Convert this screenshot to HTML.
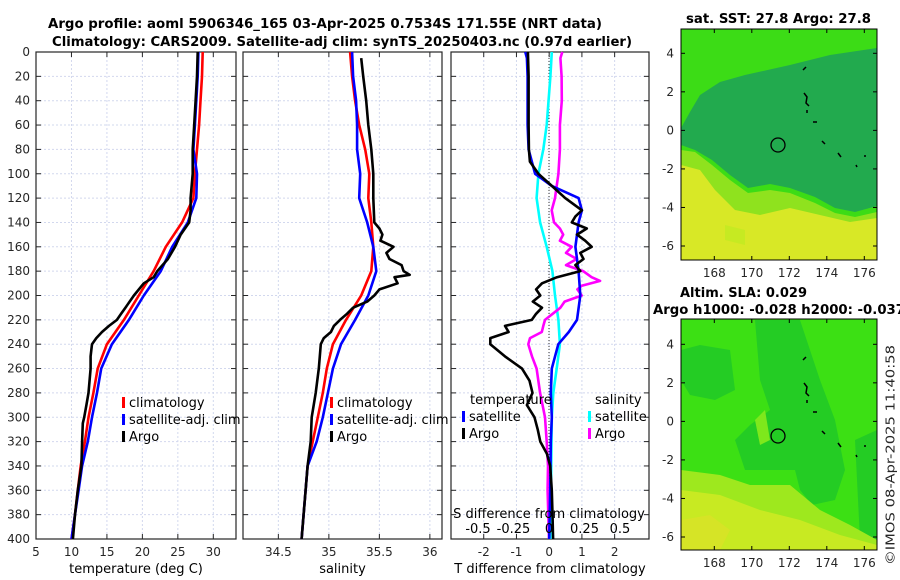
<!DOCTYPE html>
<html><head><meta charset="utf-8"><style>
body{margin:0;background:#fff;}
svg{display:block;font-family:"DejaVu Sans","Liberation Sans",sans-serif;}
.tk{font-size:12px;fill:#262626;}
.bt{font-size:13px;font-weight:bold;fill:#000;}
.lg{font-size:13px;fill:#000;}
</style></head><body>
<svg id="chart" width="900" height="580" viewBox="0 0 900 580" xmlns="http://www.w3.org/2000/svg">
<text class="bt" x="48" y="28" textLength="554" lengthAdjust="spacingAndGlyphs">Argo profile: aoml 5906346_165 03-Apr-2025 0.7534S 171.55E (NRT data)</text>
<text class="bt" x="52" y="46" textLength="580" lengthAdjust="spacingAndGlyphs">Climatology: CARS2009. Satellite-adj clim: synTS_20250403.nc (0.97d earlier)</text>
<g id="maps">
<text class="bt" x="686" y="23" textLength="185" lengthAdjust="spacingAndGlyphs">sat. SST: 27.8 Argo: 27.8</text>
<g>
<rect x="681" y="29" width="196" height="231" fill="#3cdc16"/>
<polygon fill="#22aa4e" points="681,128 690,112 700,95 720,82 745,75 790,65 830,55 877,48 877,206 855,212 835,208 815,197 790,188 770,184 748,188 730,175 712,160 695,150 681,145"/>
<polygon fill="#8fe21e" points="681,150 695,152 712,165 730,180 748,193 770,190 790,193 815,203 835,213 855,217 877,212 877,230 681,230"/>
<polygon fill="#d8e826" points="681,165 700,170 715,190 735,210 760,215 790,208 820,215 850,222 877,218 877,260 681,260"/>
<polygon fill="#c6ea22" points="725,225 745,230 745,245 725,240"/>
<g fill="none" stroke="#000" stroke-width="1.5"><path d="M803,70 l3,-3 M804,93 l3,4 l-1,6 l3,3 M807,110 l0,3 M813,122 l4,0 M822,141 l3,3 M838,153 l3,4 M856,165 l1,2 M864,156 l2,0"/></g>
<circle cx="778" cy="145" r="7" fill="none" stroke="#000" stroke-width="1.3"/>
<rect x="681" y="29" width="196" height="231" fill="none" stroke="#000"/>
</g>
<text class="bt" x="680" y="297" textLength="127" lengthAdjust="spacingAndGlyphs">Altim. SLA: 0.029</text>
<text class="bt" x="653" y="314" textLength="252" lengthAdjust="spacingAndGlyphs">Argo h1000: -0.028 h2000: -0.037</text>
<g>
<rect x="681" y="319" width="196" height="231" fill="#3ce014"/>
<polygon fill="#24cc24" points="700,345 730,350 735,390 715,400 690,395 681,380 681,350"/>
<polygon fill="#24cc24" points="755,320 800,320 820,380 835,420 845,470 835,500 812,505 800,490 795,470 770,470 745,470 735,440 750,425 770,410 760,380"/>
<polygon fill="#24cc24" points="855,440 877,430 877,550 860,540 858,500"/>
<polygon fill="#7ee81c" points="755,420 765,410 770,440 760,445"/>
<polygon fill="#9ee81e" points="681,470 720,475 750,485 790,485 820,510 850,525 877,540 877,550 681,550"/>
<polygon fill="#c8ea22" points="681,490 720,495 760,510 800,520 840,535 877,545 877,550 681,550"/>
<polygon fill="#d6e426" points="681,520 710,515 730,530 720,550 681,550"/>
<g fill="none" stroke="#000" stroke-width="1.5"><path d="M803,360 l3,-3 M804,383 l3,4 l-1,6 l3,3 M807,400 l0,3 M813,412 l4,0 M822,431 l3,3 M838,443 l3,4 M856,455 l1,2 M864,446 l2,0"/></g>
<circle cx="778" cy="436" r="7" fill="none" stroke="#000" stroke-width="1.3"/>
<rect x="681" y="319" width="196" height="231" fill="none" stroke="#000"/>
</g>
<text class="tk" x="891" y="455" text-anchor="middle" textLength="220" lengthAdjust="spacingAndGlyphs" transform="rotate(-90 891 455)" dominant-baseline="middle">©IMOS 08-Apr-2025 11:40:58</text>
</g>
</svg>
<script>
// ---------- data ----------
const depthClim = [0,20,40,60,80,100,120,140,160,180,200,220,240,260,280,300,320,340,360,380,400];
const tempClim = [28.5,28.4,28.2,28.0,27.7,27.4,27.2,25.6,23.3,21.6,19.5,17.4,15.0,13.7,13.1,12.4,11.9,11.3,10.9,10.5,10.0];
const tempSat = [27.9,27.8,27.6,27.4,27.2,27.7,27.6,26.4,24.2,22.6,20.2,18.1,15.7,14.2,13.6,12.9,12.3,11.5,11.0,10.5,10.0];
const depthArgoT = [0,20,40,60,80,100,120,130,140,150,160,170,180,185,190,200,210,215,220,225,230,235,240,250,260,280,290,300,305,320,340,360,380,400];
const tempArgo = [27.8,27.7,27.5,27.3,27.1,27.1,26.8,26.8,26.6,25.4,24.6,23.6,22.1,21.6,20.2,18.8,17.6,17.0,16.4,15.3,14.3,13.5,12.9,12.7,12.7,12.4,12.1,11.8,11.6,11.5,11.4,10.9,10.5,10.2];
const salClim = [35.21,35.23,35.26,35.30,35.36,35.40,35.39,35.42,35.44,35.42,35.32,35.17,35.04,34.98,34.94,34.89,34.84,34.79,34.77,34.75,34.73];
const salSat = [35.23,35.24,35.27,35.28,35.28,35.31,35.30,35.38,35.44,35.47,35.39,35.26,35.12,35.04,34.99,34.94,34.88,34.79,34.77,34.75,34.73];
const depthArgoS = [5,20,40,60,80,100,120,140,145,150,155,160,165,170,175,180,183,185,190,195,200,205,210,215,220,225,230,235,240,260,280,300,320,340,360,380,400];
const salArgo = [35.32,35.34,35.37,35.39,35.42,35.44,35.44,35.45,35.50,35.53,35.51,35.64,35.57,35.60,35.72,35.74,35.80,35.65,35.68,35.50,35.45,35.38,35.24,35.18,35.11,35.05,35.02,34.95,34.92,34.90,34.87,34.83,34.82,34.79,34.77,34.75,34.73];
const depthDT = [0,5,20,60,80,100,110,120,130,140,160,180,200,220,230,240,260,280,300,320,360,400];
const dTsat = [-0.73,-0.68,-0.66,-0.66,-0.63,-0.43,0.08,0.9,1.0,0.9,0.8,0.9,0.95,0.85,0.6,0.28,0.08,0.05,0.08,0.05,0.03,0.0];
const depthDTArgo = [0,20,40,60,80,90,100,110,120,130,135,140,145,150,155,160,165,170,175,180,185,190,195,200,205,210,215,220,225,230,235,240,250,260,270,280,290,300,310,320,330,340,360,380,400];
const dTargo = [-0.65,-0.63,-0.63,-0.63,-0.62,-0.59,-0.33,0.08,0.49,1.0,0.8,0.69,1.15,0.85,1.1,1.3,0.95,1.05,0.8,0.95,0.24,-0.22,-0.4,-0.27,-0.5,-0.22,-0.4,-0.53,-1.35,-1.24,-1.8,-1.8,-1.35,-0.83,-0.6,-0.51,-0.68,-0.45,-0.35,-0.27,-0.07,0.03,0.08,0.1,0.12];
const depthDS = [0,20,60,80,100,120,140,160,180,200,220,240,260,280,300,400];
const dSsat = [0.02,0.01,-0.016,-0.04,-0.075,-0.087,-0.063,-0.016,0.024,0.042,0.066,0.077,0.054,0.03,0.02,0.01];
const depthDSArgo = [0,5,20,40,60,80,100,120,130,140,145,150,155,160,165,170,175,180,185,188,192,195,200,205,210,220,225,230,235,240,250,260,280,300,320,340,360,400];
const dSargo = [0.094,0.08,0.089,0.09,0.077,0.077,0.066,0.042,0.019,0.035,0.077,0.1,0.077,0.16,0.12,0.195,0.12,0.24,0.3,0.36,0.23,0.2,0.23,0.11,0.08,-0.028,-0.04,-0.051,-0.134,-0.146,-0.12,-0.087,-0.063,-0.028,-0.016,-0.007,-0.01,0.0];
const depthTicks = [0,20,40,60,80,100,120,140,160,180,200,220,240,260,280,300,320,340,360,380,400];
const tempTicks = [5,10,15,20,25,30];
const salTicks = [34.5,35,35.5,36];
const dTTicks = [-2,-1,0,1,2];
const dSTicks = [-0.5,-0.25,0,0.25,0.5];
const dSTickLabels = ["-0.5","-0.25","0","0.25","0.5"];

// ---------- axes ----------
const Y0 = 52, Y1 = 539;
const yScale = d => Y0 + (d/400)*(Y1-Y0);
const panels = [
  {x0:36, x1:236, min:5, max:33.2, ticks:tempTicks, label:"temperature (deg C)", name:"temperature"},
  {x0:243, x1:442, min:34.15, max:36.12, ticks:salTicks, label:"salinity", name:"salinity"},
  {x0:451, x1:649, min:-3.0, max:3.05, ticks:dTTicks, label:"T difference from climatology", name:"difference"}
];
const xS = (p,v) => p.x0 + (v-p.min)/(p.max-p.min)*(p.x1-p.x0);
const sScaleDS = v => 549 + v*142;
const NS = "http://www.w3.org/2000/svg";
const svg = document.getElementById('chart');
function mk(tag, attrs, parent){
  const e = document.createElementNS(NS, tag);
  for (const k in attrs) e.setAttribute(k, attrs[k]);
  (parent||svg).appendChild(e);
  return e;
}
panels.forEach((p,i)=>{
  const g = mk('g',{});
  
  
  depthTicks.forEach(d=>{
    const y = yScale(d);
    const gl = mk('line',{x1:p.x0,x2:p.x1,y1:y,y2:y,stroke:'#d2d8ee','stroke-width':1,'stroke-dasharray':'2,2'},g);
    
    
    mk('line',{x1:p.x0,x2:p.x0+5,y1:y,y2:y,stroke:'#262626'},g);
    mk('line',{x1:p.x1-5,x2:p.x1,y1:y,y2:y,stroke:'#262626'},g);
    if (i===0){
      const t = mk('text',{x:30,y:y+4,'text-anchor':'end',class:'tk'},g);
      t.textContent = d;
      
      
    }
  });
  p.ticks.forEach(v=>{
    const x = xS(p,v);
    const gl = mk('line',{x1:x,x2:x,y1:Y0,y2:Y1,stroke:'#d2d8ee','stroke-width':1,'stroke-dasharray':'2,2'},g);
    
    
    mk('line',{x1:x,x2:x,y1:Y1-5,y2:Y1,stroke:'#262626'},g);
    mk('line',{x1:x,x2:x,y1:Y0,y2:Y0+5,stroke:'#262626'},g);
    const t = mk('text',{x:x,y:556,'text-anchor':'middle',class:'tk'},g);
    t.textContent = v;
    
    
  });
  const fr = mk('rect',{x:p.x0,y:Y0,width:p.x1-p.x0,height:Y1-Y0,fill:'none',stroke:'#262626','stroke-width':1.2},g);
  
  
  const xl = mk('text',{x:(p.x0+p.x1)/2,y:573,'text-anchor':'middle',class:'lg',fill:'#262626'},g);
  xl.textContent = p.label;
  
  
});
const zl = mk('line',{x1:549,x2:549,y1:Y0,y2:Y1,stroke:'#333','stroke-width':1,'stroke-dasharray':'1,2'});



function line(xs, ds, fx, color, name){
  let d = '';
  xs.forEach((v,i)=>{ d += (i?'L':'M') + fx(v).toFixed(1) + ',' + yScale(ds[i]).toFixed(1); });
  const pth = mk('path',{d:d,fill:'none',stroke:color,'stroke-width':2.6,'stroke-linejoin':'round'});
  
  
}
const P0 = panels[0], P1 = panels[1], P2 = panels[2];
line(tempClim, depthClim, v=>xS(P0,v), '#ff0000', 'temp-climatology-line');
line(tempSat, depthClim, v=>xS(P0,v), '#0000ff', 'temp-satellite-line');
line(tempArgo, depthArgoT, v=>xS(P0,v), '#000000', 'temp-argo-line');
line(salClim, depthClim, v=>xS(P1,v), '#ff0000', 'sal-climatology-line');
line(salSat, depthClim, v=>xS(P1,v), '#0000ff', 'sal-satellite-line');
line(salArgo, depthArgoS, v=>xS(P1,v), '#000000', 'sal-argo-line');
line(dSsat, depthDS, sScaleDS, '#00ffff', 'dsal-satellite-line');
line(dSargo, depthDSArgo, sScaleDS, '#ff00ff', 'dsal-argo-line');
line(dTsat, depthDT, v=>xS(P2,v), '#0000ff', 'dtemp-satellite-line');
line(dTargo, depthDTArgo, v=>xS(P2,v), '#000000', 'dtemp-argo-line');

const sTitle = mk('text',{x:549,y:518,'text-anchor':'middle',class:'lg',fill:'#262626'});
sTitle.textContent = 'S difference from climatology';


dSTicks.forEach((v,i)=>{
  const t = mk('text',{x:sScaleDS(v),y:533,'text-anchor':'middle',class:'lg',fill:'#262626'});
  t.textContent = dSTickLabels[i];
  
  
});

function legendEntry(x,y,color,label){
  const g = mk('g',{});
  
  
  mk('rect',{x:x,y:y-10,width:3,height:11,fill:color},g);
  const t = mk('text',{x:x+7,y:y,class:'lg'},g);
  t.textContent = label;
}
[[122,'#ff0000','climatology'],[122,'#0000ff','satellite-adj. clim'],[122,'#000000','Argo']].forEach((e,i)=>legendEntry(e[0],407+i*17,e[1],e[2]));
[[330,'#ff0000','climatology'],[330,'#0000ff','satellite-adj. clim'],[330,'#000000','Argo']].forEach((e,i)=>legendEntry(e[0],407+i*17,e[1],e[2]));
const lt = mk('text',{x:470,y:404,class:'lg'}); lt.textContent='temperature';


const ls = mk('text',{x:595,y:404,class:'lg'}); ls.textContent='salinity';


legendEntry(462,421,'#0000ff','satellite');
legendEntry(462,438,'#000000','Argo');
legendEntry(588,421,'#00ffff','satellite');
legendEntry(588,438,'#ff00ff','Argo');

function mapTicks(top, latRef){
  const lonT = [168,170,172,174,176], latT = [4,2,0,-2,-4,-6];
  lonT.forEach(l=>{
    const x = 714.3 + (l-168)*18.75;
    mk('line',{x1:x,x2:x,y1:top+231-4,y2:top+231,stroke:'#000'});
    mk('line',{x1:x,x2:x,y1:top,y2:top+4,stroke:'#000'});
    const t = mk('text',{x:x,y:top+248,'text-anchor':'middle',class:'tk'});
    t.textContent = l;
    
    
  });
  latT.forEach(l=>{
    const y = latRef + (4-l)*19.27;
    mk('line',{x1:681,x2:685,y1:y,y2:y,stroke:'#000'});
    mk('line',{x1:873,x2:877,y1:y,y2:y,stroke:'#000'});
    const t = mk('text',{x:674,y:y+4,'text-anchor':'end',class:'tk'});
    t.textContent = l;
    
    
  });
}
mapTicks(29, 53.3);
mapTicks(319, 344.3);
</script>
</body></html>
